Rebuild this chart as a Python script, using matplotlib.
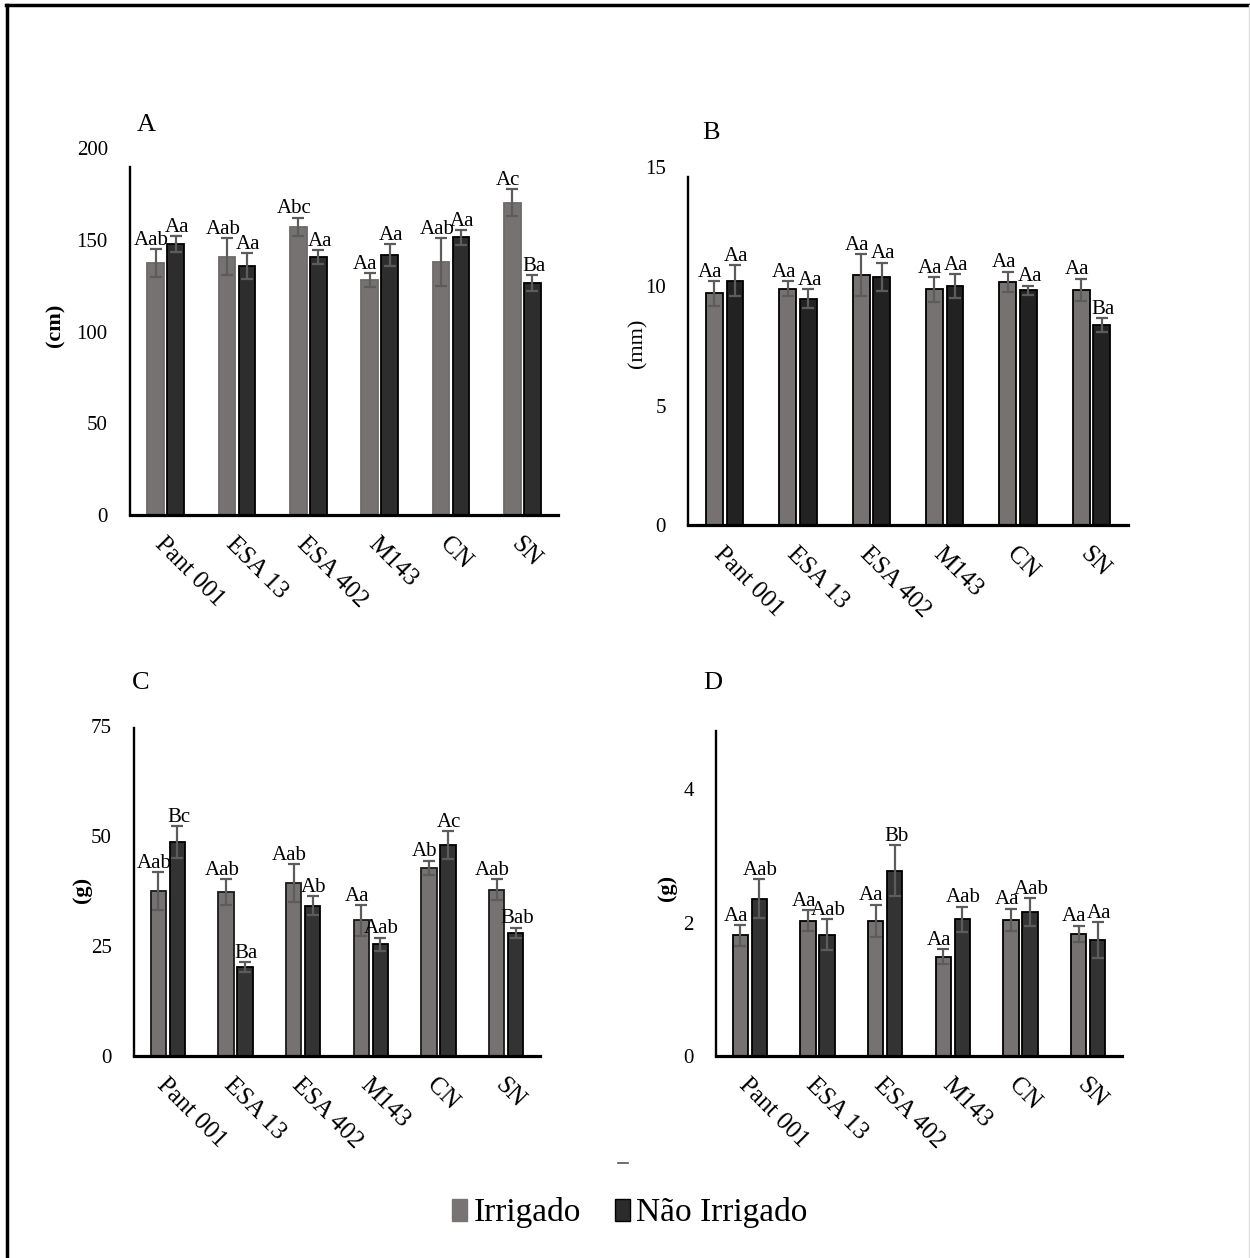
import matplotlib
matplotlib.use('Agg')
import matplotlib.pyplot as plt
from matplotlib.patches import Patch
from matplotlib.lines import Line2D
import numpy as np

plt.rcParams['font.family'] = ['Liberation Serif', 'DejaVu Serif']

cultivares = ['Pant 001', 'ESA 13', 'ESA 402', 'M143', 'CN', 'SN']

# A - altura de plantas (cm)
altura_irr = [137.3, 140.9, 157.3, 128.2, 138.2, 170.4]
altura_nirr = [147.8, 136.0, 140.9, 141.8, 151.5, 126.7]
altura_irr_err = [7.7, 10.0, 5.0, 3.8, 13.0, 7.3]
altura_nirr_err = [4.5, 7.0, 3.8, 6.0, 4.0, 4.3]
altura_irr_let = ['Aab', 'Aab', 'Abc', 'Aa', 'Aab', 'Ac']
altura_nirr_let = ['Aa', 'Aa', 'Aa', 'Aa', 'Aa', 'Ba']

# B - diametro do colmo (mm)
diam_irr = [9.69, 9.89, 10.46, 9.86, 10.18, 9.85]
diam_nirr = [10.22, 9.47, 10.39, 10.01, 9.82, 8.37]
diam_irr_err = [0.51, 0.31, 0.87, 0.52, 0.42, 0.46]
diam_nirr_err = [0.65, 0.40, 0.59, 0.50, 0.20, 0.30]
diam_irr_let = ['Aa', 'Aa', 'Aa', 'Aa', 'Aa', 'Aa']
diam_nirr_let = ['Aa', 'Aa', 'Aa', 'Aa', 'Aa', 'Ba']

# C - massa (g)
massa_irr = [37.5, 37.3, 39.4, 30.8, 42.8, 37.8]
massa_nirr = [48.6, 20.2, 34.2, 25.4, 47.9, 28.0]
massa_irr_err = [4.3, 2.95, 4.3, 3.5, 1.6, 2.35]
massa_nirr_err = [3.6, 1.2, 2.2, 1.5, 3.2, 1.2]
massa_irr_let = ['Aab', 'Aab', 'Aab', 'Aa', 'Ab', 'Aab']
massa_nirr_let = ['Bc', 'Ba', 'Ab', 'Aab', 'Ac', 'Bab']

# D - massa (g)
massa2_irr = [1.81, 2.03, 2.03, 1.49, 2.04, 1.83]
massa2_nirr = [2.36, 1.82, 2.78, 2.05, 2.16, 1.74]
massa2_irr_err = [0.155, 0.16, 0.24, 0.11, 0.17, 0.125]
massa2_nirr_err = [0.295, 0.23, 0.38, 0.19, 0.21, 0.27]
massa2_irr_let = ['Aa', 'Aa', 'Aa', 'Aa', 'Aa', 'Aa']
massa2_nirr_let = ['Aab', 'Aab', 'Bb', 'Aab', 'Aab', 'Aa']

W, H = 1250, 1258
fig = plt.figure(figsize=(W / 100, H / 100), dpi=100)


def eixo(esq, dir, base, topo):
    # posicao em pixels -> fracao da figura
    return fig.add_axes([esq / W, 1 - base / H, (dir - esq) / W, (base - topo) / H])


def painel(ax, irr, nirr, e_irr, e_nirr, l_irr, l_nirr, ymax, yspine, ticks,
           cor_n, borda_i):
    x = np.arange(len(cultivares))
    larg = 0.23
    off = 0.14
    ax.bar(x - off, irr, larg, color='#767272', edgecolor=borda_i, linewidth=1.3, zorder=2)
    ax.bar(x + off, nirr, larg, color=cor_n, edgecolor='black', linewidth=1.3, zorder=2)
    ax.errorbar(x - off, irr, yerr=e_irr, fmt='none', ecolor='#5c5c5c',
                elinewidth=1.6, capsize=4.5, capthick=1.6, zorder=3)
    ax.errorbar(x + off, nirr, yerr=e_nirr, fmt='none', ecolor='#5c5c5c',
                elinewidth=1.6, capsize=4.5, capthick=1.6, zorder=3)
    for xi, v, e, t in zip(x - off, irr, e_irr, l_irr):
        ax.annotate(t, (xi, v + e), xytext=(-3, 3), textcoords='offset points',
                    ha='center', va='baseline', fontsize=15)
    for xi, v, e, t in zip(x + off, nirr, e_nirr, l_nirr):
        ax.annotate(t, (xi, v + e), xytext=(1, 3), textcoords='offset points',
                    ha='center', va='baseline', fontsize=15)

    ax.set_xlim(-0.5, len(cultivares) - 0.5)
    ax.set_ylim(0, ymax)
    ax.set_yticks(ticks)
    ax.set_yticklabels([str(t) for t in ticks], fontsize=15)
    ax.set_xticks(x)
    ax.set_xticklabels(cultivares, rotation=-45, ha='left', va='top',
                       rotation_mode='anchor', fontsize=18)
    ax.tick_params(axis='both', length=0)
    ax.tick_params(axis='y', pad=16)
    ax.tick_params(axis='x', pad=13)
    for s in ['top', 'right']:
        ax.spines[s].set_visible(False)
    ax.spines['left'].set_linewidth(1.7)
    ax.spines['bottom'].set_linewidth(2.3)
    ax.spines['left'].set_bounds(0, yspine)
    ax.patch.set_alpha(0)
    return ax


axA = eixo(130, 558, 515, 515 - 200 * 1.833)
painel(axA, altura_irr, altura_nirr, altura_irr_err, altura_nirr_err,
       altura_irr_let, altura_nirr_let, 200, 190, [0, 50, 100, 150, 200],
       '#2d2d2d', '#6e6a6a')

axB = eixo(688, 1128, 525, 525 - 15 * 23.9)
painel(axB, diam_irr, diam_nirr, diam_irr_err, diam_nirr_err,
       diam_irr_let, diam_nirr_let, 15, 14.55, [0, 5, 10, 15],
       '#222222', 'black')

axC = eixo(134, 540, 1056, 1056 - 75 * 4.4)
painel(axC, massa_irr, massa_nirr, massa_irr_err, massa_nirr_err,
       massa_irr_let, massa_nirr_let, 75, 74.5, [0, 25, 50, 75],
       '#333333', '#1a1a1a')

axD = eixo(716, 1122, 1056, 1056 - 4.9 * 66.7)
painel(axD, massa2_irr, massa2_nirr, massa2_irr_err, massa2_nirr_err,
       massa2_irr_let, massa2_nirr_let, 4.9, 4.88, [0, 2, 4],
       '#333333', 'black')

# letras dos paineis
for t, px, py in [('A', 146, 125), ('B', 711, 133), ('C', 141, 683), ('D', 713, 683)]:
    fig.text(px / W, 1 - py / H, t, fontsize=19, ha='center', va='center')

# rotulos dos eixos y
fig.text(55 / W, 1 - 325 / H, '(cm)', fontsize=16, fontweight='bold',
         rotation=90, ha='center', va='center')
fig.text(638 / W, 1 - 343 / H, '(mm)', fontsize=16,
         rotation=90, ha='center', va='center')
fig.text(82 / W, 1 - 890 / H, '(g)', fontsize=16, fontweight='bold',
         rotation=90, ha='center', va='center')
fig.text(667 / W, 1 - 888 / H, '(g)', fontsize=16, fontweight='bold',
         rotation=90, ha='center', va='center')

# legenda
handles = [Patch(facecolor='#787474', edgecolor='#787474', label='Irrigado'),
           Patch(facecolor='#2b2b2b', edgecolor='black', label='Não Irrigado')]
fig.legend(handles=handles, loc='center', bbox_to_anchor=(630 / W, 1 - 1213 / H),
           ncol=2, frameon=False, fontsize=24, handlelength=0.45, handleheight=0.62,
           handletextpad=0.2, columnspacing=1.0)

# pequeno traco acima da legenda
fig.add_artist(Line2D([618 / W, 628 / W], [1 - 1163 / H, 1 - 1163 / H],
                      color='#555555', lw=1.2))

# moldura
fig.add_artist(Line2D([6 / W, 1], [1 - 5 / H, 1 - 5 / H], color='black', lw=2.5))
fig.add_artist(Line2D([7 / W, 7 / W], [0, 1 - 5 / H], color='black', lw=2.5))
fig.add_artist(Line2D([1249 / W, 1249 / W], [0, 1 - 5 / H], color='#dddddd', lw=1))

fig.savefig('out.png', dpi=100)
